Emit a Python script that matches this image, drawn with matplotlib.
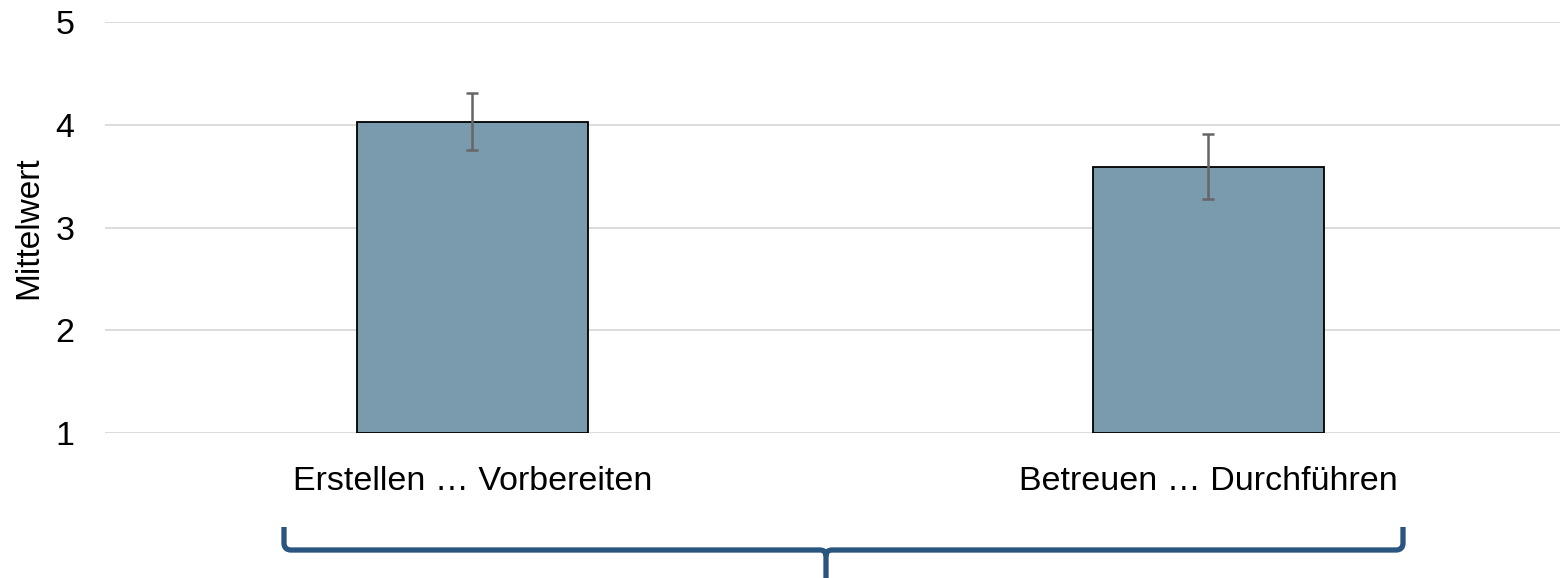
import matplotlib
matplotlib.use("Agg")
import matplotlib.pyplot as plt
from matplotlib.path import Path
from matplotlib.patches import PathPatch

categories = ["Erstellen … Vorbereiten", "Betreuen … Durchführen"]
means = [4.03, 3.59]
err_low = [3.75, 3.28]
err_high = [4.31, 3.91]

plt.rcParams['font.family'] = ['Liberation Sans', 'DejaVu Sans']

W, H = 1560, 578
fig = plt.figure(figsize=(W / 100, H / 100), dpi=100)
ax = fig.add_axes([105 / W, 1 - 433 / H, (1560 - 105) / W, (433 - 22) / H])

x = list(range(len(categories)))
yerr = [[m - lo for m, lo in zip(means, err_low)],
        [hi - m for m, hi in zip(means, err_high)]]
ax.bar(x, [m - 1 for m in means], bottom=1, width=0.314, color="#7a9aae",
       edgecolor="black", linewidth=1.3, zorder=2)
ax.errorbar(x, means, yerr=yerr, fmt="none", ecolor="#666666", elinewidth=1.8,
            capsize=4.5, capthick=1.8, zorder=3)

ax.set_xlim(-0.499, 1.478)
ax.set_ylim(1, 5)
ax.set_yticks([1, 2, 3, 4, 5])
ax.grid(axis="y", color="#d9d9d9", linewidth=1.3, zorder=0)
for s in ax.spines.values():
    s.set_visible(False)
ax.tick_params(axis="both", length=0, labelsize=24.5)
ax.tick_params(axis="y", pad=22)
ax.tick_params(axis="x", pad=24)
ax.set_xticks(x)
ax.set_xticklabels(categories)
ax.set_ylabel("Mittelwert", fontsize=24, labelpad=8)


# curly brace below the categories (figure pixel coords)
def fp(px, py):
    return (px / W, 1 - py / H)


r = 7
verts = [fp(284, 527), fp(284, 550 - r), fp(284, 550), fp(284 + r, 550),
         fp(820, 550), fp(826, 550), fp(826, 556), fp(826, 578),
         fp(826, 556), fp(826, 550), fp(832, 550),
         fp(1403 - r, 550), fp(1403, 550), fp(1403, 550 - r), fp(1403, 527)]
codes = [Path.MOVETO, Path.LINETO, Path.CURVE3, Path.CURVE3,
         Path.LINETO, Path.CURVE3, Path.CURVE3, Path.LINETO,
         Path.MOVETO, Path.CURVE3, Path.CURVE3,
         Path.LINETO, Path.CURVE3, Path.CURVE3, Path.LINETO]
fig.patches.append(PathPatch(Path(verts, codes), transform=fig.transFigure,
                             fill=False, edgecolor="#2a557f", linewidth=3.8,
                             capstyle="butt", joinstyle="round"))

fig.savefig("out.png", dpi=100)
